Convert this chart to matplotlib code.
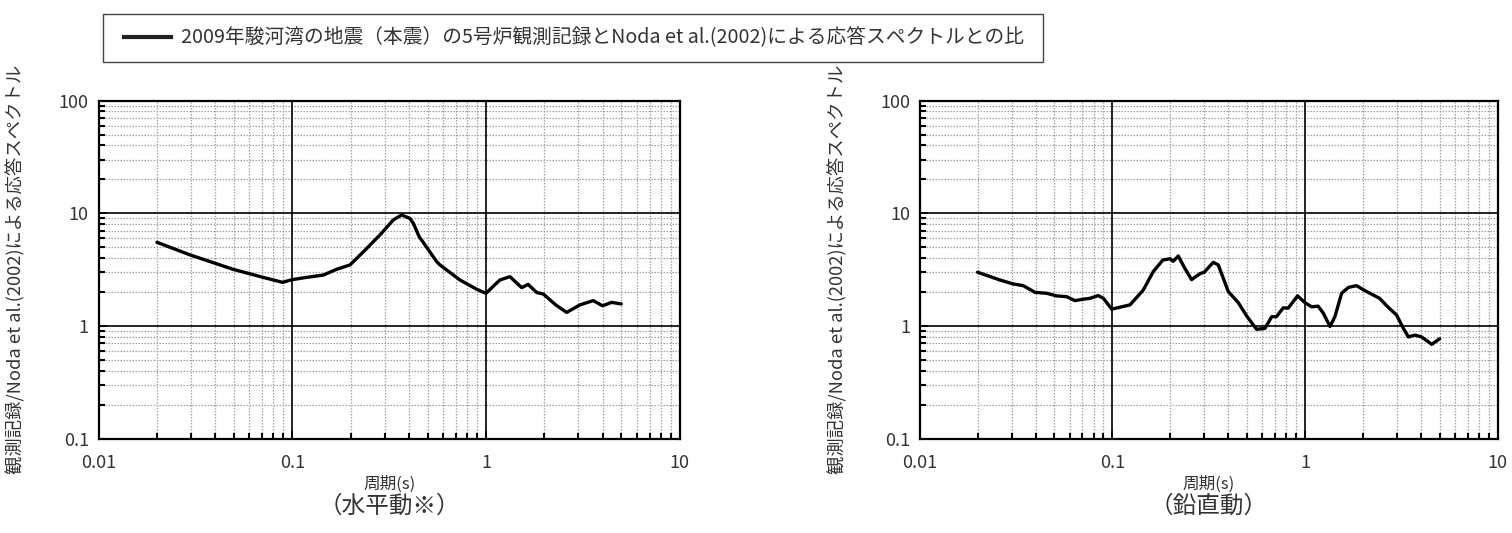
import matplotlib
matplotlib.use("Agg")
import matplotlib.pyplot as plt
from matplotlib.lines import Line2D
from matplotlib.patches import Rectangle
from matplotlib.ticker import LogLocator, NullFormatter, FixedLocator, FixedFormatter

plt.rcParams['font.family'] = ['Noto Sans CJK JP', 'DejaVu Sans']

# --- data ---
# horizontal component (水平動)
h_period = [0.020, 0.0297, 0.0496, 0.0708, 0.0891, 0.100, 0.1186, 0.1445, 0.169,
            0.1985, 0.233, 0.283, 0.332, 0.367, 0.405, 0.4217, 0.452, 0.475, 0.557,
            0.579, 0.734, 0.895, 1.00, 1.18, 1.33, 1.53, 1.65, 1.83, 1.98, 2.29,
            2.61, 3.06, 3.58, 4.00, 4.45, 5.00]
h_ratio = [5.53, 4.27, 3.18, 2.70, 2.44, 2.58, 2.70, 2.83, 3.18,
           3.48, 4.56, 6.40, 8.72, 9.66, 9.00, 8.15, 6.20, 5.50, 3.72,
           3.48, 2.56, 2.12, 1.95, 2.56, 2.74, 2.19, 2.34, 1.98, 1.92, 1.54,
           1.32, 1.54, 1.68, 1.51, 1.62, 1.57]

# vertical component (鉛直動)
v_period = [0.020, 0.0261, 0.0306, 0.0345, 0.0397, 0.0457, 0.0514, 0.058, 0.064,
            0.0708, 0.0766, 0.0846, 0.090, 0.0993, 0.1236, 0.145, 0.163, 0.183,
            0.200, 0.207, 0.220, 0.238, 0.258, 0.285, 0.300, 0.334, 0.355, 0.400,
            0.451, 0.498, 0.561, 0.620, 0.672, 0.711, 0.772, 0.818, 0.916, 1.00,
            1.083, 1.17, 1.245, 1.349, 1.43, 1.55, 1.68, 1.85, 2.09, 2.35, 2.44,
            2.70, 2.99, 3.24, 3.44, 3.72, 4.03, 4.55, 5.00]
v_ratio = [3.00, 2.56, 2.36, 2.28, 1.99, 1.95, 1.85, 1.82, 1.68,
           1.73, 1.76, 1.86, 1.76, 1.41, 1.54, 2.09, 3.03, 3.85,
           3.95, 3.75, 4.18, 3.25, 2.58, 2.91, 3.00, 3.67, 3.48, 2.02,
           1.61, 1.23, 0.935, 0.953, 1.21, 1.21, 1.45, 1.44, 1.85, 1.61,
           1.48, 1.50, 1.30, 0.99, 1.21, 1.95, 2.20, 2.28, 2.02, 1.82, 1.76,
           1.47, 1.25, 0.954, 0.80, 0.83, 0.80, 0.688, 0.77]

x_ticks = [0.01, 0.1, 1, 10]
x_ticklabels = ['0.01', '0.1', '1', '10']
y_ticks = [0.1, 1, 10, 100]
y_ticklabels = ['0.1', '1', '10', '100']

legend_label = '2009年駿河湾の地震（本震）の5号炉観測記録とNoda et al.(2002)による応答スペクトルとの比'
y_label = '観測記録/Noda et al.(2002)による応答スペクトル'
x_label = '周期(s)'
titles = ['（水平動※）', '（鉛直動）']


def style_axes(ax):
    ax.set_xscale('log')
    ax.set_yscale('log')
    ax.set_xlim(0.01, 10)
    ax.set_ylim(0.1, 100)
    ax.xaxis.set_major_locator(FixedLocator(x_ticks))
    ax.xaxis.set_major_formatter(FixedFormatter(x_ticklabels))
    ax.yaxis.set_major_locator(FixedLocator(y_ticks))
    ax.yaxis.set_major_formatter(FixedFormatter(y_ticklabels))
    ax.xaxis.set_minor_locator(LogLocator(base=10, subs=range(2, 10), numticks=20))
    ax.yaxis.set_minor_locator(LogLocator(base=10, subs=range(2, 10), numticks=20))
    ax.xaxis.set_minor_formatter(NullFormatter())
    ax.yaxis.set_minor_formatter(NullFormatter())
    # dotted minor grid; solid decade lines drawn on top so the dots don't break them
    ax.grid(which='minor', color='#a0a0a0', linestyle=(0, (1.2, 1.2)), linewidth=0.9)
    for xv in x_ticks[1:-1]:
        ax.axvline(xv, color='black', linewidth=1.2, zorder=2)
    for yv in y_ticks[1:-1]:
        ax.axhline(yv, color='black', linewidth=1.2, zorder=2)
    ax.tick_params(which='both', direction='in', color='black', labelsize=13,
                   labelcolor='#333333')
    ax.tick_params(which='major', length=6, width=1.2)
    ax.tick_params(which='minor', length=4, width=1.5)
    ax.tick_params(axis='x', pad=11)
    ax.tick_params(axis='y', pad=7)
    for sp in ax.spines.values():
        sp.set_linewidth(1.6)
        sp.set_color('black')
    ax.set_axisbelow(True)


fig = plt.figure(figsize=(15.12, 5.33), dpi=100)
ax1 = fig.add_axes([0.0652, 0.1769, 0.3843, 0.6344])
ax2 = fig.add_axes([0.6082, 0.1769, 0.3823, 0.6344])

for ax, per, rat, title in [(ax1, h_period, h_ratio, titles[0]),
                            (ax2, v_period, v_ratio, titles[1])]:
    style_axes(ax)
    ax.plot(per, rat, color='black', linewidth=2.4, solid_joinstyle='round',
            solid_capstyle='round', zorder=3)
    ax.set_ylabel(y_label, fontsize=13.2, color='#333333')
    ax.yaxis.set_label_coords(-0.125, 0.5)
    ax.set_xlabel(x_label, fontsize=12, color='#333333', labelpad=2.5)
    ax.text(0.5, -0.2, title, transform=ax.transAxes, ha='center', va='center',
            fontsize=17, color='#333333')

# legend with a plain square frame
fig.patches.append(Rectangle((103 / 1512, 1 - 62 / 533), 940 / 1512, 48 / 533,
                             transform=fig.transFigure, fill=False,
                             edgecolor='#444444', linewidth=1.0))
handle = Line2D([], [], color='#222222', linewidth=3)
fig.legend([handle], [legend_label], loc='center left',
           bbox_to_anchor=(116 / 1512, 1 - 38 / 533), frameon=False,
           fontsize=14.2, handlelength=2.4, handletextpad=0.5, borderaxespad=0,
           labelcolor='#333333')

fig.savefig('out.png', dpi=100)
